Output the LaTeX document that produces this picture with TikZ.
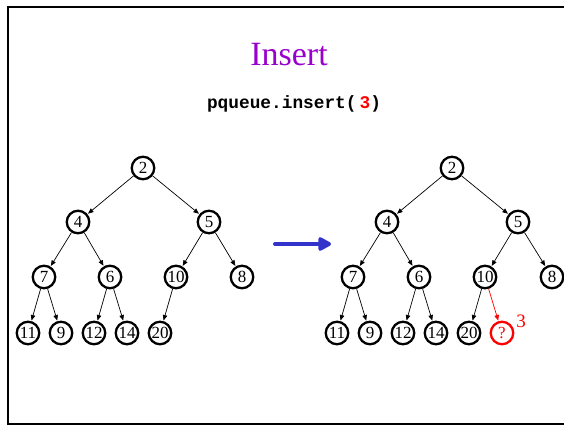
\documentclass[tikz,border=0pt]{standalone}
\usepackage{fontspec}
\setmainfont{Liberation Serif}
\newfontfamily\codefont{Liberation Mono}
\usetikzlibrary{arrows.meta}
\definecolor{titlepurple}{RGB}{153,0,204}
\definecolor{arrowblue}{RGB}{51,51,204}
\definecolor{newred}{RGB}{255,0,0}
\tikzset{
  heapnode/.style={circle, draw, line width=2.3pt, minimum size=22.5pt, inner sep=0pt,
    font=\fontsize{17}{17}\selectfont},
  newnode/.style={heapnode, draw=newred, text=newred},
  link/.style={line width=0.7pt, -{Triangle[length=5.5pt,width=4.5pt]}, shorten >=0.6pt},
  newlink/.style={link, draw=newred, -{Triangle[length=5.5pt,width=4.5pt,fill=newred]}},
}
\begin{document}
\begin{tikzpicture}[x=1pt, y=-1pt]
  \useasboundingbox (0,0) rectangle (564,427);
  % slide frame (right edge runs off the page)
  \draw[line width=2.4pt] (8,7) rectangle (580,424);

  % title and call
  \node (title) at (289,55) {\fontsize{34}{34}\selectfont\color{titlepurple}Insert};
  \node (call) at (294,104) {\codefont\bfseries\fontsize{17.8}{17.8}\selectfont pqueue.insert(\,\textcolor{newred}{3})};

  % heap before insertion
  \node[heapnode] (a2)  at (143,168) {2};
  \node[heapnode] (a4)  at (78,222)  {4};
  \node[heapnode] (a5)  at (209,222) {5};
  \node[heapnode] (a7)  at (44,277)  {7};
  \node[heapnode] (a6)  at (110,277) {6};
  \node[heapnode] (a10) at (176,277) {10};
  \node[heapnode] (a8)  at (242,277) {8};
  \node[heapnode] (a11) at (28,333)  {11};
  \node[heapnode] (a9)  at (61,333)  {9};
  \node[heapnode] (a12) at (94,333)  {12};
  \node[heapnode] (a14) at (127,333) {14};
  \node[heapnode] (a20) at (160,333) {20};
  \foreach \p/\c in {a2/a4, a2/a5, a4/a7, a4/a6, a5/a10, a5/a8,
                     a7/a11, a7/a9, a6/a12, a6/a14, a10/a20}
    \draw[link] (\p) -- (\c);

  % transition arrow
  \coordinate (go1) at (275,244);
  \coordinate (go2) at (331,244);
  \draw[arrowblue, line width=4pt, line cap=round,
        -{Triangle[length=15pt,width=15pt,round]}] (go1) -- (go2);

  % heap with the new slot
  \node[heapnode] (b2)  at (452,168) {2};
  \node[heapnode] (b4)  at (387,222) {4};
  \node[heapnode] (b5)  at (518,222) {5};
  \node[heapnode] (b7)  at (353,277) {7};
  \node[heapnode] (b6)  at (419,277) {6};
  \node[heapnode] (b10) at (485,277) {10};
  \node[heapnode] (b8)  at (552,277) {8};
  \node[heapnode] (b11) at (337,333) {11};
  \node[heapnode] (b9)  at (370,333) {9};
  \node[heapnode] (b12) at (403,333) {12};
  \node[heapnode] (b14) at (436,333) {14};
  \node[heapnode] (b20) at (469,333) {20};
  \node[newnode]  (bq)  at (502,333) {?};
  \foreach \p/\c in {b2/b4, b2/b5, b4/b7, b4/b6, b5/b10, b5/b8,
                     b7/b11, b7/b9, b6/b12, b6/b14, b10/b20}
    \draw[link] (\p) -- (\c);
  \draw[newlink] (b10) -- (bq);
  \node[text=newred, font=\fontsize{19}{19}\selectfont, inner sep=0pt] (val) at (521,321) {3};
\end{tikzpicture}
\end{document}
